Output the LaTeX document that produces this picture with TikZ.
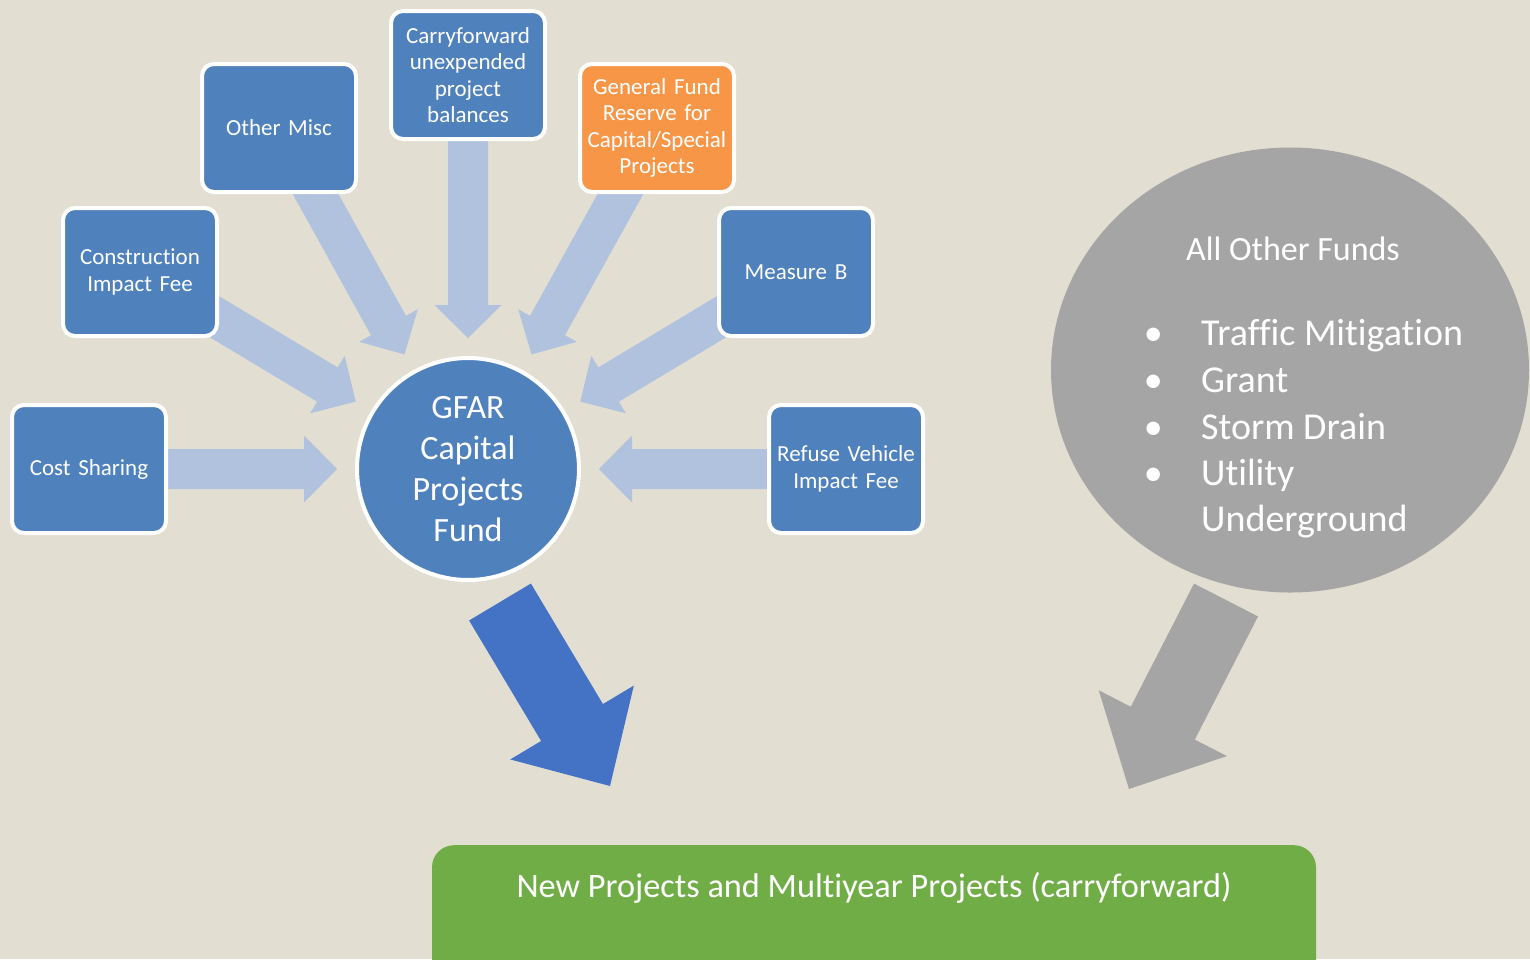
\documentclass[tikz,border=0pt]{standalone}
\usepackage{fontspec}
\setmainfont{Carlito}[Ligatures=NoCommon]
\usepackage{tikz}
\usetikzlibrary{calc,shapes.geometric}
\pgfdeclarelayer{back}
\pgfsetlayers{back,main}
\definecolor{paper}{HTML}{E3DED2}
\definecolor{boxblue}{HTML}{4F81BD}
\definecolor{fundorange}{HTML}{F79646}
\definecolor{feedblue}{HTML}{B0C2DD}
\definecolor{flowblue}{HTML}{4472C4}
\definecolor{flowgray}{HTML}{A5A5A5}
\definecolor{projgreen}{HTML}{70AD47}
\def\blockarrow[#1](#2)(#3)(#4:#5:#6){
	\coordinate (ba-base) at ($(#3)!#6pt!(#2)$);
	\fill[#1] ($(#2)!#4pt!90:(#3)$) -- ($(ba-base)!#4pt!90:(#3)$) -- ($(ba-base)!#5pt!90:(#3)$) -- (#3) -- ($(ba-base)!#5pt!-90:(#3)$) -- ($(ba-base)!#4pt!-90:(#3)$) -- ($(#2)!#4pt!-90:(#3)$) -- cycle;}
\tikzset{
	srcbox/.style={draw=white, line width=4pt, fill=boxblue, rounded corners=12pt, minimum width=154pt, minimum height=128pt, text width=146pt, align=center, text=white, inner sep=0pt, font=\fontsize{23}{26.5}\selectfont},
	hubcircle/.style={circle, draw=white, line width=4pt, fill=boxblue, minimum size=222pt, align=center, text=white, font=\fontsize{34}{41}\selectfont},
	feed/.style={fill=feedblue},
	otherfunds/.style={ellipse, fill=flowgray, minimum width=478pt, minimum height=445pt, inner sep=0pt},
	othertitle/.style={text=white, inner sep=0pt, font=\fontsize{34}{41}\selectfont},
	otheritem/.style={text=white, inner sep=0pt, font=\fontsize{38}{46.5}\selectfont},
	projbox/.style={fill=projgreen, rounded corners=22pt, minimum width=884pt, text height=23pt, text depth=100pt, inner ysep=29pt, text=white, font=\fontsize{34.3}{41}\selectfont}
}

\begin{document}
\begin{tikzpicture}[x=1pt, y=-1pt]
			%%%%% START %%%%%
			\useasboundingbox (0,0) rectangle (1530,959);
			
			\node[srcbox] (cost) at (89,469) {Cost Sharing};
			\node[srcbox] (constr) at (140,272) {Construction\\Impact Fee};
			\node[srcbox] (misc) at (279,128) {Other Misc};
			\node[srcbox] (carry) at (468,75) {Carryforward\\unexpended\\project\\balances};
			\node[srcbox, fill=fundorange] (reserve) at (657,128) {General Fund\\Reserve for\\Capital/Special\\Projects};
			\node[srcbox] (measb) at (796,272) {Measure B};
			\node[srcbox] (refuse) at (846,469) {Refuse Vehicle\\Impact Fee};
			
			\node[hubcircle] (gfar) at (468,469) {GFAR\\Capital\\Projects\\Fund};
			
			\node[otherfunds] (others) at (1290,370) {};
			\node[othertitle, anchor=base] (othershead) at (1293,260) {All Other Funds};
			\node[otheritem, anchor=base west] (traffic) at (1105,345) {\makebox[96pt]{\textbullet}Traffic Mitigation};
			\node[otheritem, anchor=base west] (grant) at (1105,392) {\makebox[96pt]{\textbullet}Grant};
			\node[otheritem, anchor=base west] (storm) at (1105,439) {\makebox[96pt]{\textbullet}Storm Drain};
			\node[otheritem, anchor=base west] (utility) at (1105,485) {\makebox[96pt]{\textbullet}Utility};
			\node[otheritem, anchor=base west] (undergr) at (1201,531) {Underground};
			
			\node[projbox, anchor=north] (final) at (874,845) {New Projects and Multiyear Projects (carryforward)};
			
			\coordinate (cost-tip) at ($(gfar)!131pt!(cost)$);
			\coordinate (constr-tip) at ($(gfar)!131pt!(constr)$);
			\coordinate (misc-tip) at ($(gfar)!131pt!(misc)$);
			\coordinate (carry-tip) at ($(gfar)!131pt!(carry)$);
			\coordinate (reserve-tip) at ($(gfar)!131pt!(reserve)$);
			\coordinate (measb-tip) at ($(gfar)!131pt!(measb)$);
			\coordinate (refuse-tip) at ($(gfar)!131pt!(refuse)$);
			
			\coordinate (gfar-out) at (500,602);
			\coordinate (final-left) at (610,786);
			\coordinate (others-out) at (1226,600);
			\coordinate (final-right) at (1129,789);
			
			\begin{pgfonlayer}{back}
			\fill[paper] (0,0) rectangle (1530,959);
			
			\blockarrow[feed](cost)(cost-tip)(20:33.5:33)
			\blockarrow[feed](constr)(constr-tip)(20:33.5:33)
			\blockarrow[feed](misc)(misc-tip)(20:33.5:33)
			\blockarrow[feed](carry)(carry-tip)(20:33.5:33)
			\blockarrow[feed](reserve)(reserve-tip)(20:33.5:33)
			\blockarrow[feed](measb)(measb-tip)(20:33.5:33)
			\blockarrow[feed](refuse)(refuse-tip)(20:33.5:33)
			
			\blockarrow[flowblue](gfar-out)(final-left)(36:72:74)
			\blockarrow[flowgray](others-out)(final-right)(36:72:74)
			\end{pgfonlayer}
			
			%%%%% END %%%%%
\end{tikzpicture}
\end{document}
